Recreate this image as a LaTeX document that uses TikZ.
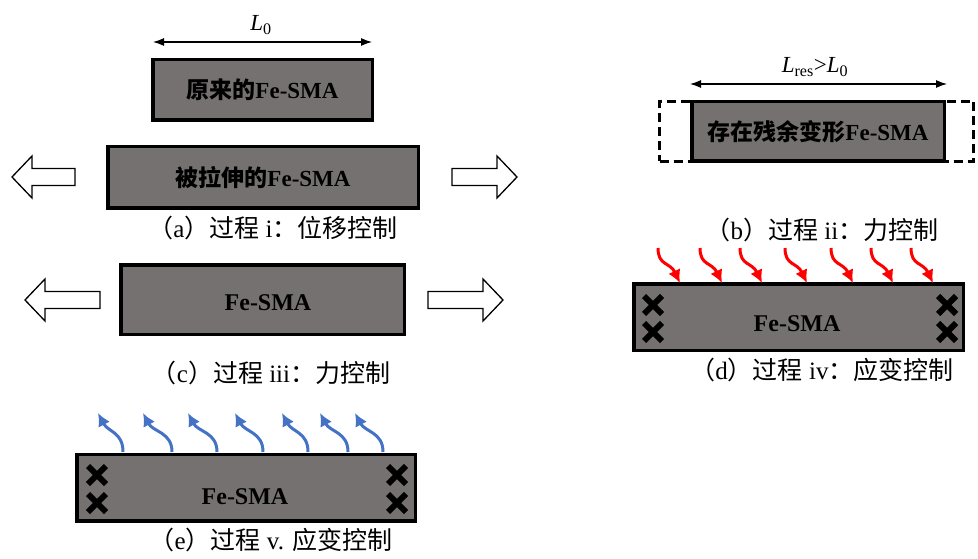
\documentclass[tikz,border=0pt]{standalone}
\usepackage{fontspec}
\setmainfont{Liberation Serif}
\newfontfamily\cjk{Noto Sans CJK SC}
\usetikzlibrary{positioning,calc,shapes.misc,arrows.meta}
\definecolor{smagray}{RGB}{118,113,113}
\definecolor{heatred}{RGB}{255,0,0}
\definecolor{coolblue}{RGB}{68,114,196}
\newcommand\zh[1]{{\cjk #1}}

\begin{document}
\begin{tikzpicture}[x=1pt,y=-1pt]
\tikzstyle{sma}=[rectangle, draw=black, line width=3.5pt, fill=smagray, inner sep=0pt,
  font=\fontsize{23}{26}\selectfont\bfseries]
\tikzstyle{smatext}=[font=\fontsize{24}{28}\selectfont\bfseries, inner sep=0pt]
\tikzstyle{caption}=[font=\fontsize{25}{28}\selectfont, inner sep=0pt]
\tikzstyle{dim}=[{Latex[length=11pt,width=8pt]}-{Latex[length=11pt,width=8pt]}, line width=1.2pt]
\tikzstyle{dimlabel}=[font=\fontsize{23}{26}\selectfont, inner sep=0pt]
\tikzstyle{clamp}=[cross out, draw=black, line width=6pt, minimum size=12pt, inner sep=0pt]
\tikzstyle{heat}=[-{Latex[length=13pt,width=13pt]}, heatred, line width=3pt]
\tikzstyle{cool}=[-{Latex[length=13pt,width=13pt]}, coolblue, line width=3pt]
\tikzset{pull/.pic={\draw[line width=1.3pt, fill=white]
  (0,-8.5) -- (#1-20,-8.5) -- (#1-20,-21) -- (#1,0) -- (#1-20,21) -- (#1-20,8.5) -- (0,8.5) -- cycle;}}
\useasboundingbox (0,0) rectangle (978,559);

% (a) process i
\node[sma, minimum width=219.5, minimum height=60.5] (orig) at (262.5,90)
  {\zh{原来的}Fe-SMA};
\node[sma, minimum width=310.5, minimum height=61.5] (stretched) at (263,177.5)
  {\zh{被拉伸的}Fe-SMA};
\coordinate (l0_left) at (153,42);
\coordinate (l0_right) at (372,42);
\node[dimlabel] (l0_lbl) at (261,25) {\itshape L\textsubscript{\upshape 0}};
\pic[rotate=180] at (75,177) {pull=63};
\pic at (452,177) {pull=65};
\node[caption] (cap_a) at (273,228) {\zh{（}a\zh{）过程} i\zh{：位移控制}};

% (b) process ii
\node[rectangle, draw=black, line width=3pt, dash pattern=on 9pt off 5pt,
  minimum width=314, minimum height=60] (ghost) at (816.5,131.5) {};
\node[sma, minimum width=252.5, minimum height=59.5] (res) at (818,131.5)
  {\zh{存在残余变形}Fe-SMA};
\coordinate (lres_left) at (690,84);
\coordinate (lres_right) at (947,84);
\node[dimlabel] (lres_lbl) at (815,67) {\itshape L\textsubscript{\upshape res}\upshape >\itshape L\textsubscript{\upshape 0}};
\node[caption] (cap_b) at (822,230) {\zh{（}b\zh{）过程} ii\zh{：力控制}};

% (c) process iii
\node[sma, minimum width=283.5, minimum height=69.5] (sma_c) at (262.5,299.5) {};
\node[smatext] (txt_c) at (268,303) {Fe-SMA};
\pic[rotate=180] at (100,300) {pull=75};
\pic at (428,300) {pull=75};
\node[caption] (cap_c) at (271,373) {\zh{（}c\zh{）过程} iii\zh{：力控制}};

% (d) process iv
\node[sma, minimum width=329.5, minimum height=66.5] (sma_d) at (798.5,317) {};
\node[smatext] (txt_d) at (797,324) {Fe-SMA};
\node[clamp] (d_cl1) at (653,305) {};
\node[clamp] (d_cl2) at (653,332) {};
\node[clamp] (d_cl3) at (947,305) {};
\node[clamp] (d_cl4) at (947,332) {};
\foreach \i/\x in {1/680,2/722,3/762,4/807,5/853,6/893,7/933}{
  \coordinate (h_\i) at (\x,283);
  \draw[heat] ($(h_\i)+(-22,-35)$) .. controls ($(h_\i)+(-22,-17)$) and ($(h_\i)+(-10,-21)$) .. (h_\i);
}
\node[caption] (cap_d) at (822,370) {\zh{（}d\zh{）过程} iv\zh{：应变控制}};

% (e) process v
\node[sma, minimum width=338.5, minimum height=66.5] (sma_e) at (246,487.5) {};
\node[smatext] (txt_e) at (245,497) {Fe-SMA};
\node[clamp] (e_cl1) at (97,475) {};
\node[clamp] (e_cl2) at (97,503) {};
\node[clamp] (e_cl3) at (397,475) {};
\node[clamp] (e_cl4) at (397,503) {};
\foreach \i/\xs/\xt in {1/123/98,2/172/143,3/217/188,4/263/235,5/308/282,6/348/320,7/383/355}{
  \coordinate (c_s\i) at (\xs,452);
  \coordinate (c_t\i) at (\xt,413);
  \draw[cool] (c_s\i) .. controls ($(c_s\i)+(0,-20)$) and ($(c_t\i)+(10,19)$) .. (c_t\i);
}
\node[caption] (cap_e) at (271,540) {\zh{（}e\zh{）过程} v. \zh{应变控制}};

\path
(l0_left) edge [dim] (l0_right)
(lres_left) edge [dim] (lres_right);
\end{tikzpicture}
\end{document}
